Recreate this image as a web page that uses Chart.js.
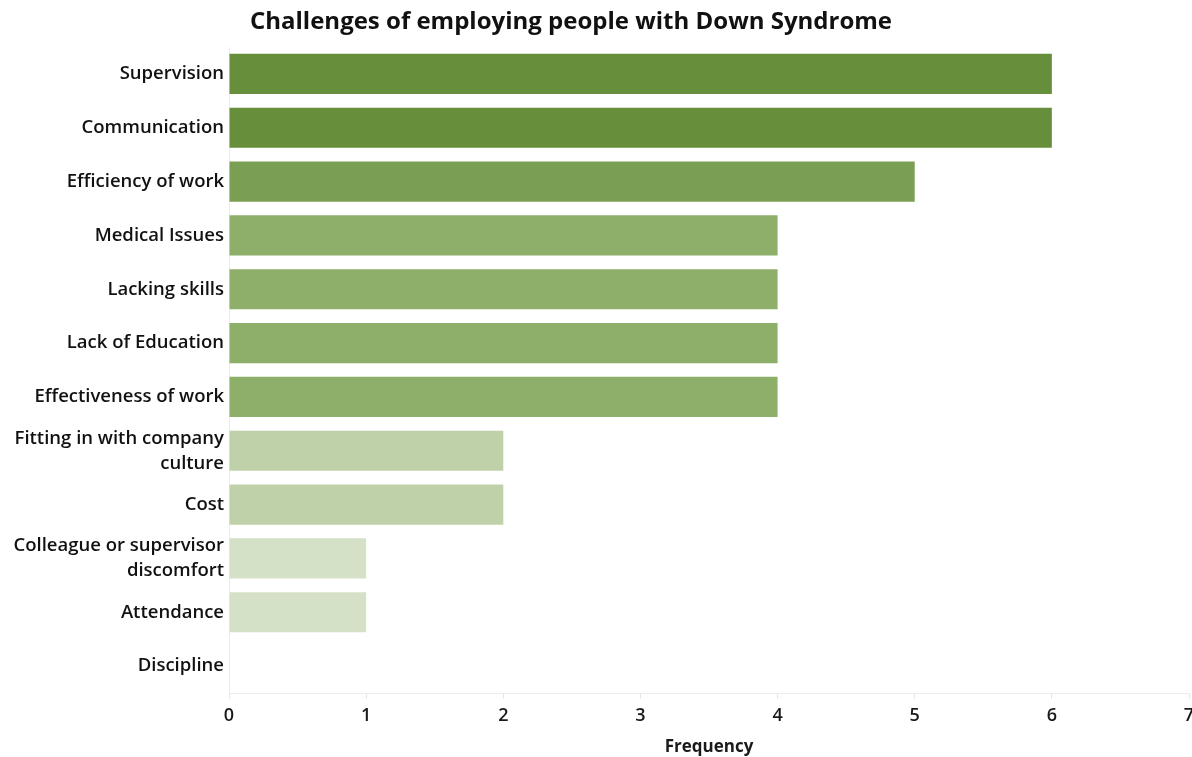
<!DOCTYPE html>
<html>
<head>
<meta charset="utf-8">
<script src="https://cdn.jsdelivr.net/npm/chart.js@4/dist/chart.umd.min.js"></script>
<style>
  html, body { margin: 0; padding: 0; background: #fff; }
  #wrap { width: 1192px; height: 757px; position: relative; }
</style>
</head>
<body>
<div id="wrap"><canvas id="chart"></canvas></div>
<script>
// Data
const categories = [
  'Supervision',
  'Communication',
  'Efficiency of work',
  'Medical Issues',
  'Lacking skills',
  'Lack of Education',
  'Effectiveness of work',
  ['Fitting in with company', 'culture'],
  'Cost',
  ['Colleague or supervisor', 'discomfort'],
  'Attendance',
  'Discipline'
];
const frequency = [6, 6, 5, 4, 4, 4, 4, 2, 2, 1, 1, 0];
const xTicks = [0, 1, 2, 3, 4, 5, 6, 7];

// shade by value, darker = more frequent
const shades = { 6: '#668e3b', 5: '#7a9f53', 4: '#8daf6a', 2: '#bfd1a9', 1: '#d5e1c7', 0: '#eef3e8' };

const FONT = '"Open Sans", "Noto Sans", sans-serif';

// title drawn a little left of the canvas centre, as in the reference
const titlePlugin = {
  id: 'leftTitle',
  afterDraw(chart) {
    const ctx = chart.ctx;
    ctx.save();
    ctx.font = 'bold 24px ' + FONT;
    ctx.fillStyle = '#111';
    ctx.textAlign = 'center';
    ctx.textBaseline = 'middle';
    ctx.fillText('Challenges of employing people with Down Syndrome', 571, 22);
    ctx.restore();
  }
};

new Chart(document.getElementById('chart'), {
  type: 'bar',
  data: {
    labels: categories,
    datasets: [{
      label: 'Frequency',
      data: frequency,
      backgroundColor: frequency.map(v => shades[v]),
      borderWidth: 0,
      barPercentage: 0.745,
      categoryPercentage: 1
    }]
  },
  options: {
    indexAxis: 'y',
    responsive: true,
    maintainAspectRatio: false,
    animation: false,
    layout: { padding: { top: 47, right: 0, bottom: 0, left: 0 } },
    plugins: {
      legend: { display: false },
      tooltip: { enabled: false }
    },
    scales: {
      x: {
        min: 0,
        max: 7,
        afterBuildTicks: scale => { scale.ticks = xTicks.map(v => ({ value: v })); },
        // let the plot run nearly to the right edge like the reference
        afterFit: scale => { scale.paddingRight = 3; },
        ticks: {
          color: '#1a1a1a',
          font: { family: FONT, size: 18, weight: '600' },
          padding: 6
        },
        grid: {
          drawOnChartArea: false,
          tickLength: 6,
          color: '#e6e6e6'
        },
        border: { color: '#ececec' },
        title: {
          display: true,
          text: 'Frequency',
          color: '#1a1a1a',
          font: { family: FONT, size: 17, weight: 'bold' },
          padding: { top: 4, bottom: 0 }
        }
      },
      y: {
        afterFit: scale => { scale.width = 229; },
        ticks: {
          color: '#111',
          font: { family: FONT, size: 18.5, weight: '600', lineHeight: 1.35 },
          padding: -3
        },
        grid: { display: false },
        border: { color: '#ececec' }
      }
    }
  },
  plugins: [titlePlugin]
});
</script>
</body>
</html>
